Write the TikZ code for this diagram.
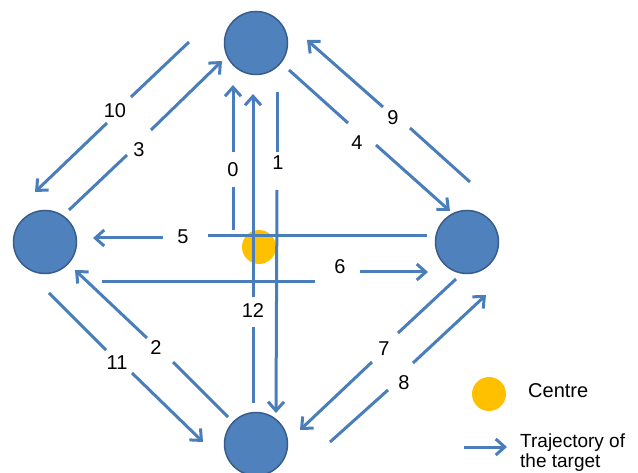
\documentclass[tikz,border=0pt]{standalone}
\usepackage{fontspec}
\setmainfont{Liberation Sans}
\usetikzlibrary{arrows.meta}
\definecolor{lineblue}{HTML}{4A7EBB}
\definecolor{nodefill}{HTML}{4F81BD}
\definecolor{nodeedge}{HTML}{385D8A}
\definecolor{centreyellow}{HTML}{FFC000}
\begin{document}
\begin{tikzpicture}[x=1pt,y=-1pt,
  traj/.style={draw=lineblue, line width=3pt},
  trajarrow/.style={traj, -{Straight Barb[length=9pt,width=16pt]}},
  agent/.style={circle, fill=nodefill, draw=nodeedge, line width=1.5pt, minimum size=63pt, inner sep=0pt},
  centre/.style={circle, fill=centreyellow, minimum size=34pt, inner sep=0pt},
  lbl/.style={font=\fontsize{20}{20}\selectfont, inner sep=0pt, text=black},
  legtext/.style={font=\fontsize{19}{19}\selectfont, inner sep=0pt, text=black}]
\useasboundingbox (0,0) rectangle (638,473);
\clip (0,0) rectangle (638,473);
\fill[white] (0,0) rectangle (638,473);

% agents and centre
\node[agent] (top) at (256,43) {};
\node[agent] (left) at (45,242) {};
\node[agent] (right) at (467,242) {};
\node[agent] (bottom) at (256,444) {};
\node[centre] (ctr) at (259,247) {};

% coordinates of trajectory segments
\coordinate (a0s) at (233,230); \coordinate (a0m1) at (233,187); \coordinate (a0m2) at (233,152); \coordinate (a0e) at (233,85);
\coordinate (a12s) at (253,403); \coordinate (a12m1) at (253,327); \coordinate (a12m2) at (253,297); \coordinate (a12e) at (253,94);
\coordinate (a1s) at (277,92); \coordinate (a1m1) at (277,152); \coordinate (a1m2) at (277,190); \coordinate (a1e) at (276,413);
\coordinate (a5s) at (427,236); \coordinate (a5m1) at (208,236); \coordinate (a5m2) at (163,238); \coordinate (a5e) at (93,238);
\coordinate (a6s) at (102,282); \coordinate (a6m1) at (315,282); \coordinate (a6m2) at (360,272); \coordinate (a6e) at (428,272);
\coordinate (a10s) at (189,42); \coordinate (a10m1) at (131,97); \coordinate (a10m2) at (107,123); \coordinate (a10e) at (35,192);
\coordinate (a3s) at (69,210); \coordinate (a3m1) at (127,155); \coordinate (a3m2) at (151,130); \coordinate (a3e) at (222,61);
\coordinate (a9s) at (470,182); \coordinate (a9m1) at (410,128); \coordinate (a9m2) at (383,107); \coordinate (a9e) at (307,40);
\coordinate (a4s) at (289,70); \coordinate (a4m1) at (348,123); \coordinate (a4m2) at (376,145); \coordinate (a4e) at (450,211);
\coordinate (a2s) at (228,417); \coordinate (a2m1) at (173,362); \coordinate (a2m2) at (147,338); \coordinate (a2e) at (75,270);
\coordinate (a11s) at (49,293); \coordinate (a11m1) at (106,350); \coordinate (a11m2) at (132,373); \coordinate (a11e) at (203,442);
\coordinate (a7s) at (456,279); \coordinate (a7m1) at (398,333); \coordinate (a7m2) at (372,362); \coordinate (a7e) at (300,430);
\coordinate (a8s) at (330,442); \coordinate (a8m1) at (388,390); \coordinate (a8m2) at (413,363); \coordinate (a8e) at (486,295);

% trajectories
\foreach \k in {0,12,1,5,10,3,9,4,2,11,7,8}{
  \draw[traj] (a\k s) -- (a\k m1);
  \draw[trajarrow] (a\k m2) -- (a\k e);
}
\draw[traj] (a6s) -- (a6m1);
\draw[trajarrow] (a6m2) -- (a6e);

% labels
\node[lbl] (l0) at (233,170) {0};
\node[lbl] (l12) at (253,311) {12};
\node[lbl] (l1) at (278,163) {1};
\node[lbl] (l5) at (183,237) {5};
\node[lbl] (l6) at (340,267) {6};
\node[lbl] (l10) at (115,111) {10};
\node[lbl] (l3) at (139,150) {3};
\node[lbl] (l9) at (393,118) {9};
\node[lbl] (l4) at (357,143) {4};
\node[lbl] (l2) at (156,348) {2};
\node[lbl] (l11) at (117,363) {11};
\node[lbl] (l7) at (384,349) {7};
\node[lbl] (l8) at (404,383) {8};

% legend
\node[centre] (legc) at (489,394) {};
\node[lbl, anchor=base west] (legct) at (528,398) {Centre};
\coordinate (lega1) at (464,447); \coordinate (lega2) at (507,447);
\draw[trajarrow] (lega1) -- (lega2);
\node[legtext, anchor=base west] (legt1) at (520,447) {Trajectory of};
\node[legtext, anchor=base west] (legt2) at (520,467) {the target};
\end{tikzpicture}
\end{document}
